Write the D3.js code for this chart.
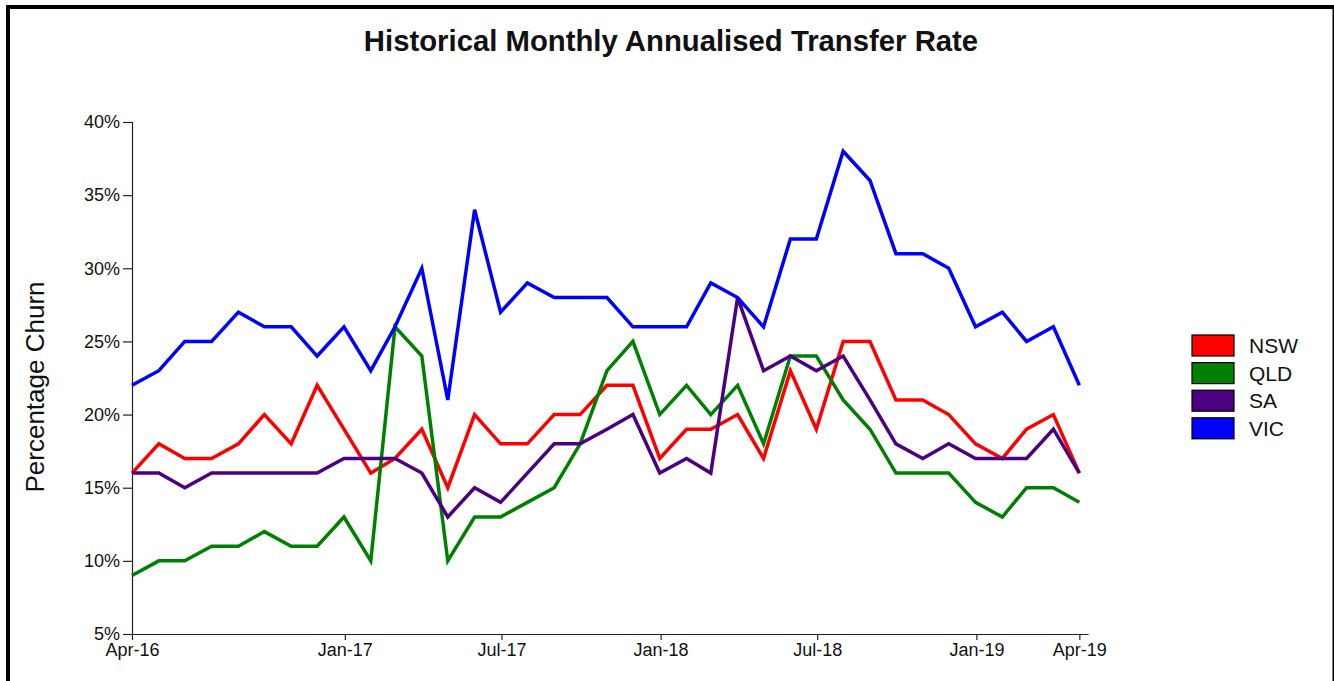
<!DOCTYPE html>
<html>
<head>
<meta charset="utf-8">
<script src="https://cdn.jsdelivr.net/npm/d3@7"></script>
<style>
  html, body { margin: 0; padding: 0; background: #fff; overflow: hidden; }
  svg text { font-family: "Liberation Sans", Arial, sans-serif; fill: #111; }
  .axis path, .axis line { stroke: #222; stroke-width: 1.2; }
</style>
</head>
<body>
<div id="chart"></div>
<script>
// ── Data ──
const months = ['Apr-16','May-16','Jun-16','Jul-16','Aug-16','Sep-16','Oct-16','Nov-16','Dec-16',
  'Jan-17','Feb-17','Mar-17','Apr-17','May-17','Jun-17','Jul-17','Aug-17','Sep-17','Oct-17','Nov-17','Dec-17',
  'Jan-18','Feb-18','Mar-18','Apr-18','May-18','Jun-18','Jul-18','Aug-18','Sep-18','Oct-18','Nov-18','Dec-18',
  'Jan-19','Feb-19','Mar-19','Apr-19'];
const nsw = [16,18,17,17,18,20,18,22,19,16,17,19,15,20,18,18,20,20,22,22,17,19,19,20,17,23,19,25,25,21,21,20,18,17,19,20,16];
const qld = [9,10,10,11,11,12,11,11,13,10,26,24,10,13,13,14,15,18,23,25,20,22,20,22,18,24,24,21,19,16,16,16,14,13,15,15,14];
const sa  = [16,16,15,16,16,16,16,16,17,17,17,16,13,15,14,16,18,18,19,20,16,17,16,28,23,24,23,24,21,18,17,18,17,17,17,19,16];
const vic = [22,23,25,25,27,26,26,24,26,23,26,30,21,34,27,29,28,28,28,26,26,26,29,28,26,32,32,38,36,31,31,30,26,27,25,26,22];
const seriesNames  = ['NSW', 'QLD', 'SA', 'VIC'];
const seriesColors = ['#ff0000', '#008000', '#4b0082', '#0000ff'];
const xTickLabels = ['Jan-17', 'Jul-17', 'Jan-18', 'Jul-18', 'Jan-19'];
const yTickValues = [5, 10, 15, 20, 25, 30, 35, 40];

const W = 1334, H = 681;
const svg = d3.select('#chart').append('svg').attr('width', W).attr('height', H);

// outer frame (runs off the bottom / right edge)
svg.append('rect').attr('x', 8).attr('y', 7).attr('width', 1326.5).attr('height', 720)
  .attr('fill', 'none').attr('stroke', '#000').attr('stroke-width', 4);

const parse = d3.timeParse('%b-%y');
// points sit at month end
const monthEnd = s => d3.timeDay.offset(d3.timeMonth.offset(parse(s), 1), -1);
const dates = months.map(monthEnd);

const x = d3.scaleTime()
  .domain([dates[0], d3.timeDay.offset(dates[dates.length - 1], 10)])
  .range([132, 1088]);
const y = d3.scaleLinear().domain([5, 40]).range([634, 122]);

// ── Axes ──
const xTicks = [dates[0], ...xTickLabels.map(parse), dates[dates.length - 1]];
svg.append('g').attr('class', 'axis').attr('transform', 'translate(0,634)')
  .call(d3.axisBottom(x).tickValues(xTicks).tickFormat(d3.timeFormat('%b-%y'))
    .tickSizeInner(6).tickSizeOuter(0).tickPadding(3))
  .call(g => g.selectAll('text').attr('font-size', 18).style('font-family', '"Liberation Sans", Arial, sans-serif'));

svg.append('g').attr('class', 'axis').attr('transform', 'translate(132,0)')
  .call(d3.axisLeft(y).tickValues(yTickValues).tickFormat(d => d + '%').tickSize(9).tickPadding(3))
  .call(g => g.selectAll('text').attr('font-size', 18).style('font-family', '"Liberation Sans", Arial, sans-serif'));

// ── Lines ──
const line = d3.line().x((d, i) => x(dates[i])).y(d => y(d));
[nsw, qld, sa, vic].forEach((vals, k) => {
  svg.append('path').datum(vals)
    .attr('d', line)
    .attr('fill', 'none')
    .attr('stroke', seriesColors[k])
    .attr('stroke-width', 3.5)
    .attr('stroke-linejoin', 'miter');
});

// ── Title & axis label ──
svg.append('text').attr('x', 671).attr('y', 51).attr('text-anchor', 'middle')
  .attr('font-size', 29.3).attr('font-weight', 'bold').text('Historical Monthly Annualised Transfer Rate');

svg.append('text').attr('transform', 'translate(44,387) rotate(-90)')
  .attr('text-anchor', 'middle').attr('font-size', 26).text('Percentage Churn');

// ── Legend ──
const legend = svg.append('g').attr('transform', 'translate(1192,335)');
seriesNames.forEach((name, k) => {
  const row = legend.append('g').attr('transform', `translate(0,${k * 27.6})`);
  row.append('rect').attr('width', 42).attr('height', 21)
    .attr('fill', seriesColors[k]).attr('stroke', '#000').attr('stroke-width', 1.2);
  row.append('text').attr('x', 57).attr('y', 18).attr('font-size', 21).text(name);
});
</script>
</body>
</html>
